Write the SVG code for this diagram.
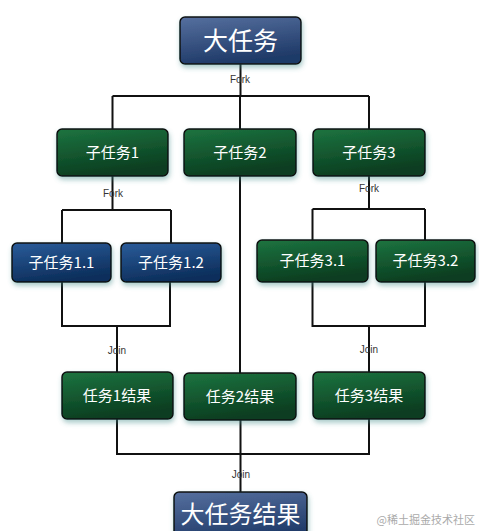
<svg xmlns="http://www.w3.org/2000/svg" width="479" height="531" viewBox="0 0 479 531">
<defs>
<linearGradient id="gb" x1="0" y1="0" x2="0.3" y2="1"><stop offset="0" stop-color="#56709f"/><stop offset="1" stop-color="#1f3a68"/></linearGradient>
<linearGradient id="gb2" x1="0" y1="0" x2="0.3" y2="1"><stop offset="0" stop-color="#2a5c9a"/><stop offset="1" stop-color="#0d2f5c"/></linearGradient>
<linearGradient id="gg" x1="0" y1="0" x2="0.3" y2="1"><stop offset="0" stop-color="#1d7440"/><stop offset="1" stop-color="#0a3d20"/></linearGradient>
<filter id="glow" x="-20%" y="-20%" width="140%" height="150%"><feGaussianBlur in="SourceAlpha" stdDeviation="2.5" result="b"/><feOffset in="b" dx="1" dy="3" result="o"/><feFlood flood-color="#3f8a88" flood-opacity="0.45"/><feComposite operator="in" in2="o"/><feMerge><feMergeNode/><feMergeNode in="SourceGraphic"/></feMerge></filter>
</defs>
<style>
.ln{stroke:#111;stroke-width:2;fill:none}
.bx{stroke:#111;stroke-width:1.5;filter:url(#glow)}
.t{font-family:"Noto Sans CJK SC","Liberation Sans",sans-serif;fill:#fff;text-anchor:middle}
.lb{font-family:"Liberation Sans",sans-serif;font-size:10px;fill:#333;text-anchor:middle}
</style>
<g id="connectors">
<path class="ln" d="M240.5 64V96M112.5 96H369M112.5 96V129M369 96V129M240 96V373"/>
<path class="ln" d="M112.5 176V210M62 210H171M62 210V243M171 210V243"/>
<path class="ln" d="M369 176V209M312.5 209H425M312.5 209V240M425 209V240"/>
<path class="ln" d="M62 282V326H170V282M117 326V372"/>
<path class="ln" d="M312.5 282V326H425V282M369 326V372"/>
<path class="ln" d="M117 419V454H369V419M240.5 420V492"/>
</g>
<g id="labels">
<text class="lb" x="240" y="83">Fork</text>
<text class="lb" x="113" y="197">Fork</text>
<text class="lb" x="369" y="192">Fork</text>
<text class="lb" x="117" y="354">Join</text>
<text class="lb" x="369" y="353">Join</text>
<text class="lb" x="241" y="478">Join</text>
</g>
<g id="n-big"><rect class="bx" x="180" y="17" width="121" height="47" rx="5" fill="url(#gb)"/><text class="t" x="240.5" y="50" font-size="25">大任务</text></g>
<g id="n-s1"><rect class="bx" x="57" y="129" width="111" height="47" rx="5" fill="url(#gg)"/><text class="t" x="112.5" y="158" font-size="15">子任务1</text></g>
<g id="n-s2"><rect class="bx" x="184" y="129" width="112" height="47" rx="5" fill="url(#gg)"/><text class="t" x="240" y="158" font-size="15">子任务2</text></g>
<g id="n-s3"><rect class="bx" x="313" y="129" width="112" height="47" rx="5" fill="url(#gg)"/><text class="t" x="369" y="158" font-size="15">子任务3</text></g>
<g id="n-s11"><rect class="bx" x="12" y="243" width="99" height="39" rx="5" fill="url(#gb2)"/><text class="t" x="61.5" y="268" font-size="15">子任务1.1</text></g>
<g id="n-s12"><rect class="bx" x="121" y="243" width="100" height="39" rx="5" fill="url(#gb2)"/><text class="t" x="171" y="268" font-size="15">子任务1.2</text></g>
<g id="n-s31"><rect class="bx" x="257" y="240" width="111" height="42" rx="5" fill="url(#gg)"/><text class="t" x="312.5" y="266" font-size="15">子任务3.1</text></g>
<g id="n-s32"><rect class="bx" x="376" y="240" width="99" height="42" rx="5" fill="url(#gg)"/><text class="t" x="425.5" y="266" font-size="15">子任务3.2</text></g>
<g id="n-r1"><rect class="bx" x="62" y="372" width="111" height="47" rx="5" fill="url(#gg)"/><text class="t" x="117" y="401" font-size="15">任务1结果</text></g>
<g id="n-r2"><rect class="bx" x="184" y="373" width="112" height="47" rx="5" fill="url(#gg)"/><text class="t" x="240" y="402" font-size="15">任务2结果</text></g>
<g id="n-r3"><rect class="bx" x="313" y="372" width="112" height="47" rx="5" fill="url(#gg)"/><text class="t" x="369" y="401" font-size="15">任务3结果</text></g>
<g id="n-bigres"><rect class="bx" x="174" y="492" width="133" height="50" rx="5" fill="url(#gb)"/><text class="t" x="240.5" y="523" font-size="24">大任务结果</text></g>
<text x="475" y="524" font-family="Noto Sans CJK SC,sans-serif" font-size="11" fill="#aaa" text-anchor="end">@稀土掘金技术社区</text>
</svg>
